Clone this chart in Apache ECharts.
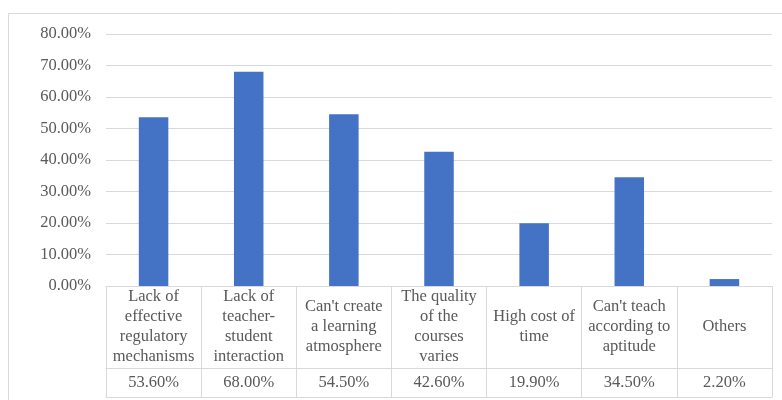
<!DOCTYPE html>
<html>
<head>
<meta charset="utf-8">
<script src="https://cdn.jsdelivr.net/npm/echarts@6/dist/echarts.min.js"></script>
<style>
  html, body { margin: 0; padding: 0; background: #fff; }
  #chart { width: 782px; height: 400px; }
</style>
</head>
<body>
<div id="chart"></div>
<script>
const categories = [
  "Lack of\neffective\nregulatory\nmechanisms",
  "Lack of\nteacher-\nstudent\ninteraction",
  "Can't create\na learning\natmosphere",
  "The quality\nof the\ncourses\nvaries",
  "High cost of\ntime",
  "Can't teach\naccording to\naptitude",
  "Others",
];
const values = [53.6, 68.0, 54.5, 42.6, 19.9, 34.5, 2.2];
const yTicks = [0, 10, 20, 30, 40, 50, 60, 70, 80];

const chart = echarts.init(document.getElementById("chart"));
const textColor = "#595959";
const lineColor = "#d9d9d9";
const font = "'Liberation Serif', 'Times New Roman', serif";

chart.setOption({
  animation: false,
  textStyle: { fontFamily: font },
  graphic: [
    {
      type: "rect",
      shape: { x: 8.5, y: 13.5, width: 800, height: 420 },
      style: { fill: "none", stroke: lineColor, lineWidth: 1 },
      silent: true,
    },
  ],
  grid: { left: 106, right: 10, top: 34, bottom: 114 },
  xAxis: [
    {
      type: "category",
      data: categories,
      axisLine: { lineStyle: { color: lineColor } },
      axisTick: { show: true, length: 111, lineStyle: { color: lineColor } },
      axisLabel: {
        color: textColor,
        fontFamily: font,
        fontSize: 16.5,
        lineHeight: 20,
        margin: 41,
        verticalAlign: "middle",
        interval: 0,
      },
    },
    {
      type: "category",
      data: categories,
      position: "bottom",
      offset: 82,
      axisLine: { show: true, lineStyle: { color: lineColor } },
      axisTick: { show: false },
      axisLabel: {
        color: textColor,
        fontFamily: font,
        fontSize: 16.5,
        margin: 15,
        verticalAlign: "middle",
        interval: 0,
        formatter: (v, i) => values[i].toFixed(2) + "%",
      },
    },
    {
      type: "category",
      data: categories,
      position: "bottom",
      offset: 111,
      axisLine: { show: true, lineStyle: { color: lineColor } },
      axisTick: { show: false },
      axisLabel: { show: false },
    },
  ],
  yAxis: {
    type: "value",
    min: yTicks[0],
    max: yTicks[yTicks.length - 1],
    interval: 10,
    axisLine: { show: false },
    axisTick: { show: false },
    splitLine: { lineStyle: { color: lineColor } },
    axisLabel: {
      color: textColor,
      fontFamily: font,
      fontSize: 16.5,
      margin: 15,
      formatter: (v) => v.toFixed(2) + "%",
    },
  },
  series: [
    {
      type: "bar",
      data: values,
      barWidth: "31%",
      itemStyle: { color: "#4472c4" },
    },
  ],
});
</script>
</body>
</html>
